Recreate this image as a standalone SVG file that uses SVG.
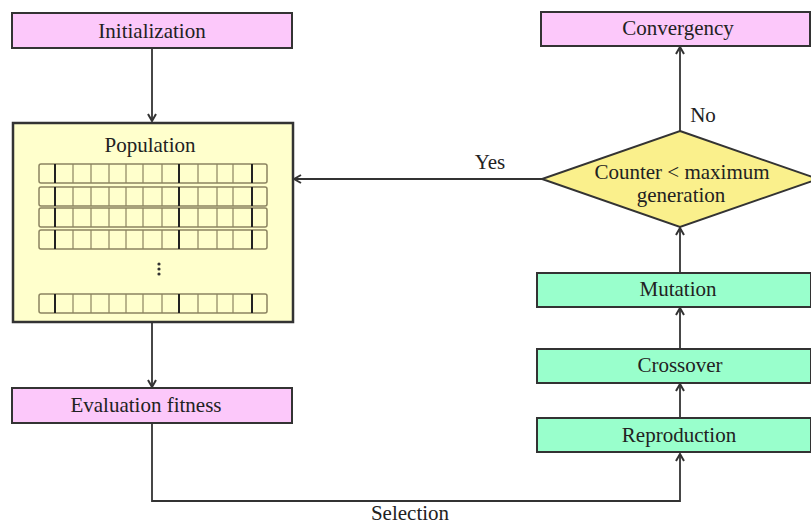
<svg xmlns="http://www.w3.org/2000/svg" width="811" height="524" viewBox="0 0 811 524">
<defs>
<style>
text{font-size:21px;fill:#222;text-anchor:middle}
.pink{fill:#FCC8FA;stroke:#333;stroke-width:2}
.green{fill:#99FFCC;stroke:#333;stroke-width:2}
.pop{fill:#FFFFCC;stroke:#333;stroke-width:2.5}
.dia{fill:#FAF08C;stroke:#333;stroke-width:2}
.conn{fill:none;stroke:#333;stroke-width:1.8}
.row{fill:#FFFFCC;stroke:#8C8460;stroke-width:1.5}
.cell{stroke:#8C8460;stroke-width:1.2}
.thick{stroke:#222;stroke-width:2}
</style>
<marker id="arr" viewBox="0 0 10 10" refX="9" refY="5" markerWidth="10" markerHeight="10" markerUnits="userSpaceOnUse" orient="auto">
<polyline points="2,1 9,5 2,9" fill="none" stroke="#333" stroke-width="2"/>
</marker>
<g id="rowcells">
<rect class="row" x="39" y="0" width="228" height="19" rx="2"/>
<g class="cell">
<line x1="73" y1="0" x2="73" y2="19"/><line x1="91" y1="0" x2="91" y2="19"/><line x1="109" y1="0" x2="109" y2="19"/><line x1="126" y1="0" x2="126" y2="19"/><line x1="143" y1="0" x2="143" y2="19"/><line x1="162" y1="0" x2="162" y2="19"/><line x1="198" y1="0" x2="198" y2="19"/><line x1="217" y1="0" x2="217" y2="19"/><line x1="233" y1="0" x2="233" y2="19"/>
</g>
<g class="thick">
<line x1="55" y1="0" x2="55" y2="19"/><line x1="179" y1="0" x2="179" y2="19"/><line x1="252" y1="0" x2="252" y2="19"/>
</g>
</g>
</defs>
<rect width="811" height="524" fill="#fff"/>
<g font-family="Liberation Serif, serif">
<g id="connectors">
<line class="conn" x1="152" y1="49" x2="152" y2="121" marker-end="url(#arr)"/>
<line class="conn" x1="152" y1="322" x2="152" y2="387" marker-end="url(#arr)"/>
<polyline class="conn" points="152,423 152,501 680,501 680,454" marker-end="url(#arr)"/>
<line class="conn" x1="680" y1="418" x2="680" y2="384" marker-end="url(#arr)"/>
<line class="conn" x1="680" y1="349" x2="680" y2="308" marker-end="url(#arr)"/>
<line class="conn" x1="680" y1="273" x2="680" y2="228" marker-end="url(#arr)"/>
<line class="conn" x1="680" y1="131" x2="680" y2="47" marker-end="url(#arr)"/>
<line class="conn" x1="542" y1="179" x2="294" y2="179" marker-end="url(#arr)"/>
<text x="703" y="122">No</text>
<text x="490" y="169">Yes</text>
<text x="410" y="520">Selection</text>
</g>
<g id="initialization">
<rect class="pink" x="12" y="13" width="280" height="35"/>
<text x="152" y="38">Initialization</text>
</g>
<g id="population">
<rect class="pop" x="13" y="123" width="280" height="199"/>
<text x="150" y="152">Population</text>
<use href="#rowcells" y="164"/>
<use href="#rowcells" y="187"/>
<use href="#rowcells" y="208"/>
<use href="#rowcells" y="230"/>
<use href="#rowcells" y="294"/>
<g fill="#333"><circle cx="159" cy="264" r="1.6"/><circle cx="159" cy="269" r="1.6"/><circle cx="159" cy="274" r="1.6"/></g>
</g>
<g id="evaluation">
<rect class="pink" x="12" y="388" width="280" height="35"/>
<text x="146" y="412">Evaluation fitness</text>
</g>
<g id="convergency">
<rect class="pink" x="541" y="12" width="269" height="34"/>
<text x="678" y="35">Convergency</text>
</g>
<g id="decision">
<polygon class="dia" points="680,131 818,179 680,227 542,179"/>
<text x="682" y="179">Counter &lt; maximum</text>
<text x="681" y="202">generation</text>
</g>
<g id="mutation">
<rect class="green" x="537" y="273" width="274" height="34"/>
<text x="678" y="296">Mutation</text>
</g>
<g id="crossover">
<rect class="green" x="537" y="349" width="274" height="34"/>
<text x="680" y="372">Crossover</text>
</g>
<g id="reproduction">
<rect class="green" x="537" y="418" width="274" height="34"/>
<text x="679" y="442">Reproduction</text>
</g>
</g>
</svg>
